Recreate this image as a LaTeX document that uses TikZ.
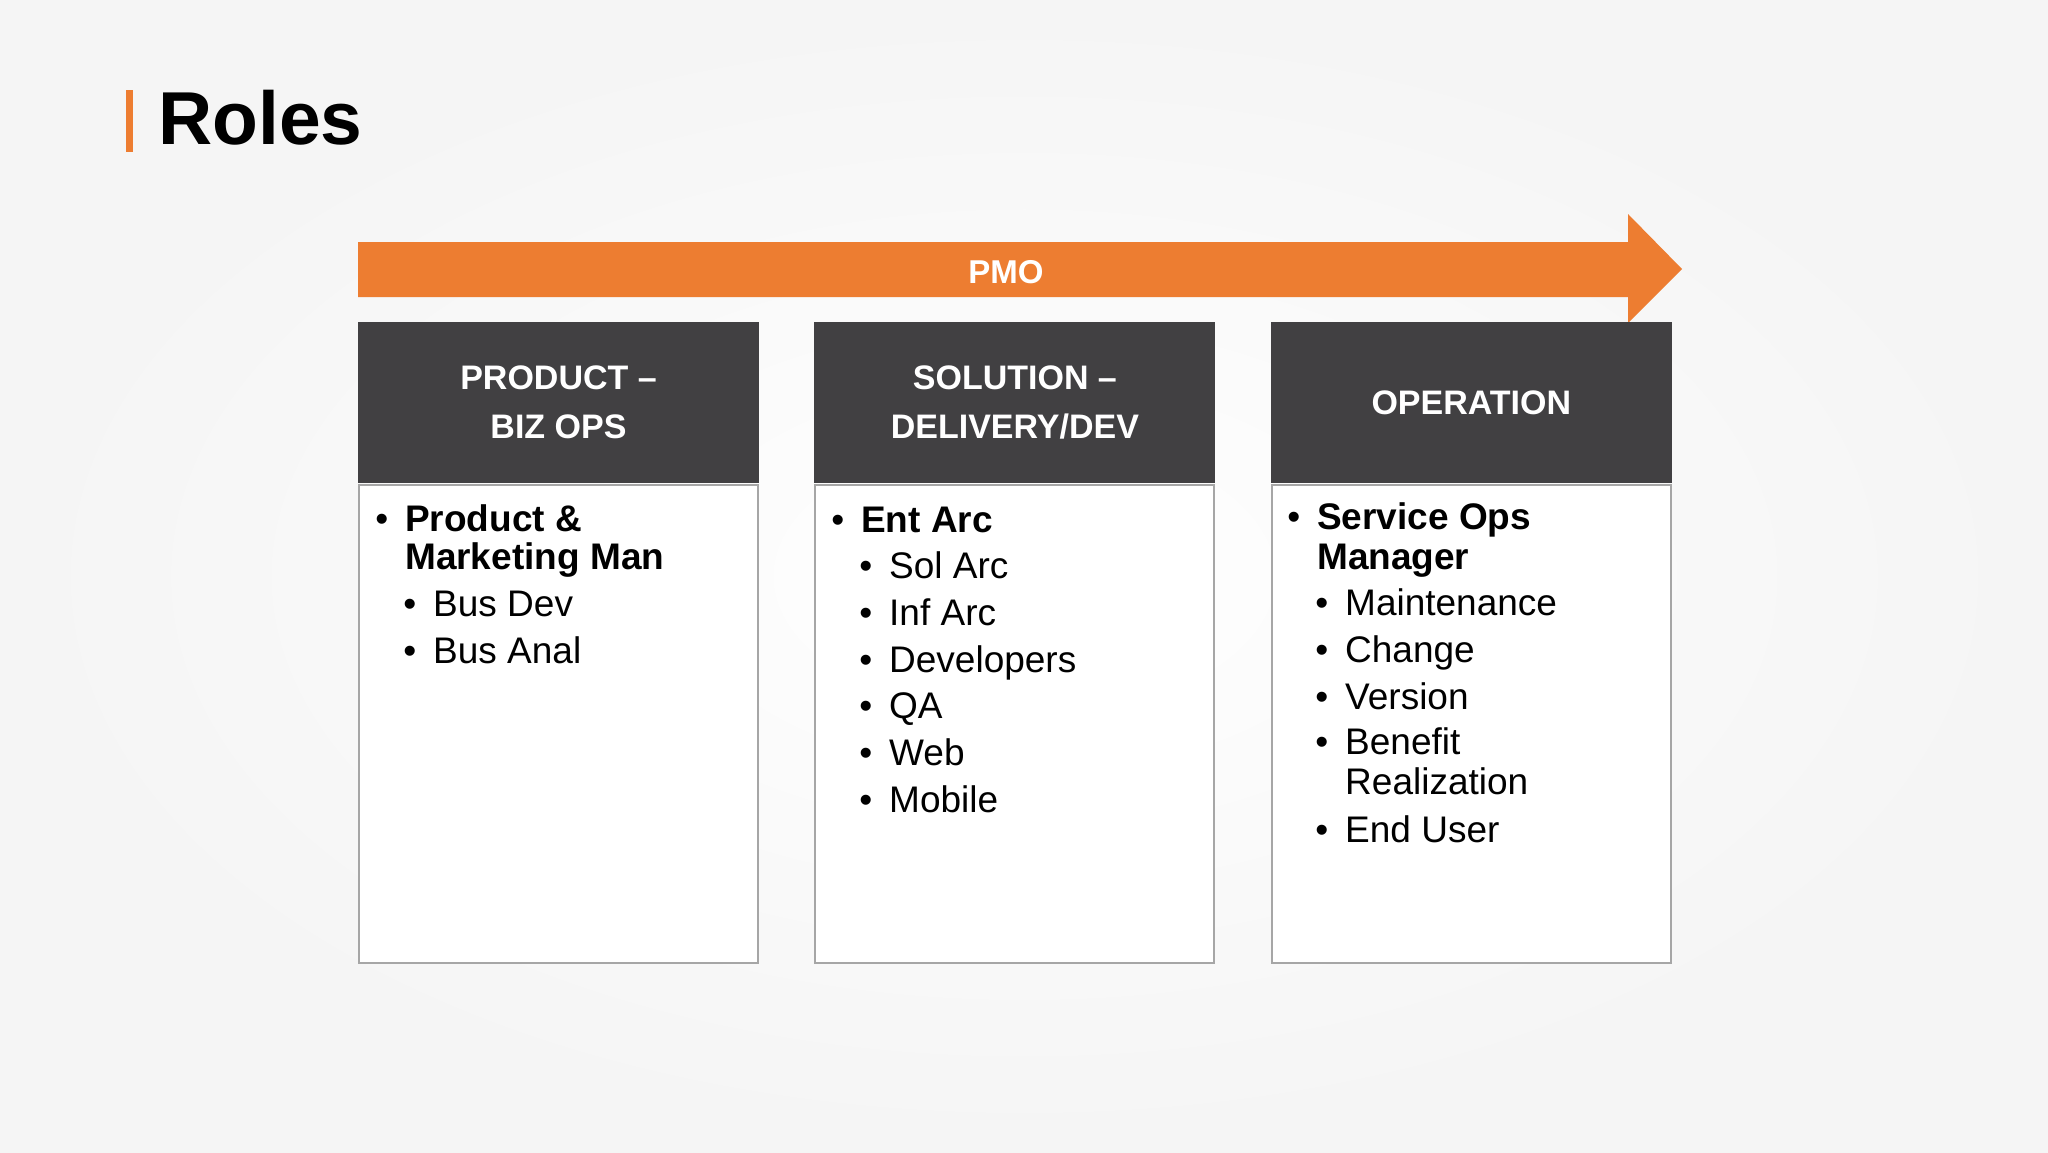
\documentclass[tikz,border=0pt]{standalone}
\usepackage{xcolor}
\usepackage{fontspec}
\setmainfont{Liberation Sans}
\usepackage{tikz}
\usetikzlibrary{positioning}
\definecolor{pmoorange}{HTML}{ED7D31}
\definecolor{hddark}{HTML}{414042}
\definecolor{boxline}{HTML}{A6A6A6}
\tikzstyle{head} = [rectangle, fill=hddark, text=white, minimum width=401pt, minimum height=161pt, align=center, inner sep=0pt, font=\fontsize{34}{49}\selectfont\bfseries]
\tikzstyle{body} = [rectangle, draw=boxline, line width=2pt, fill=white, minimum width=399pt, minimum height=478pt, inner sep=0pt]
\tikzstyle{lvlone} = [anchor=base west, inner sep=0pt, font=\fontsize{37}{40}\selectfont\bfseries]
\tikzstyle{lvltwo} = [anchor=base west, inner sep=0pt, font=\fontsize{37}{40}\selectfont]
\newcommand{\bul}{\makebox[0pt][r]{\mdseries\textbullet\hspace{17pt}}}

\begin{document}
\begin{tikzpicture}[x=1pt, y=-1pt, node distance=55pt]
  \useasboundingbox (0,0) rectangle (2048,1152);
  \shade[inner color=white, outer color=black!4] (0,0) rectangle (2048,1152);

  % title
  \fill[pmoorange] (126,90) rectangle (133,152);
  \node (title) [anchor=base west, inner sep=0pt, font=\fontsize{75}{80}\selectfont\bfseries] at (158,144) {Roles};

  % pmo arrow
  \fill[pmoorange] (358,242) -- (1628,242) -- (1628,214) -- (1682,269) -- (1628,323) -- (1628,297) -- (358,297) -- cycle;
  \node (pmo) [anchor=base, inner sep=0pt, text=white, font=\fontsize{33}{40}\selectfont\bfseries] at (1006,283) {PMO};

  % headers and bodies
  \node (prodhd) [head] at (558.5,402.5) {PRODUCT –\\BIZ OPS};
  \node (solhd) [head, right=of prodhd] {SOLUTION –\\DELIVERY/DEV};
  \node (ophd) [head, right=of solhd] {OPERATION};
  \node (prodbd) [body, below=1pt of prodhd] {};
  \node (solbd) [body, below=1pt of solhd] {};
  \node (opbd) [body, below=1pt of ophd] {};

  % product list
  \node (proda) [lvlone] at (405,531) {\bul Product \&};
  \node (prodb) [lvlone] at (405,569) {Marketing Man};
  \node (busdev) [lvltwo] at (433,616) {\bul Bus Dev};
  \node (busanal) [lvltwo] at (433,663) {\bul Bus Anal};

  % solution list
  \node (entarc) [lvlone] at (861,532) {\bul Ent Arc};
  \foreach \txt [count=\i] in {Sol Arc, Inf Arc, Developers, QA, Web, Mobile}
    \node (solit\i) [lvltwo] at (889,532+46.7*\i) {\bul \txt};

  % operation list
  \node (opa) [lvlone] at (1317,529) {\bul Service Ops};
  \node (opb) [lvlone] at (1317,569) {Manager};
  \node (maint) [lvltwo] at (1345,615) {\bul Maintenance};
  \node (change) [lvltwo] at (1345,662) {\bul Change};
  \node (version) [lvltwo] at (1345,709) {\bul Version};
  \node (benefit) [lvltwo] at (1345,754) {\bul Benefit};
  \node (realiz) [lvltwo] at (1345,794) {Realization};
  \node (enduser) [lvltwo] at (1345,842) {\bul End User};
\end{tikzpicture}
\end{document}
